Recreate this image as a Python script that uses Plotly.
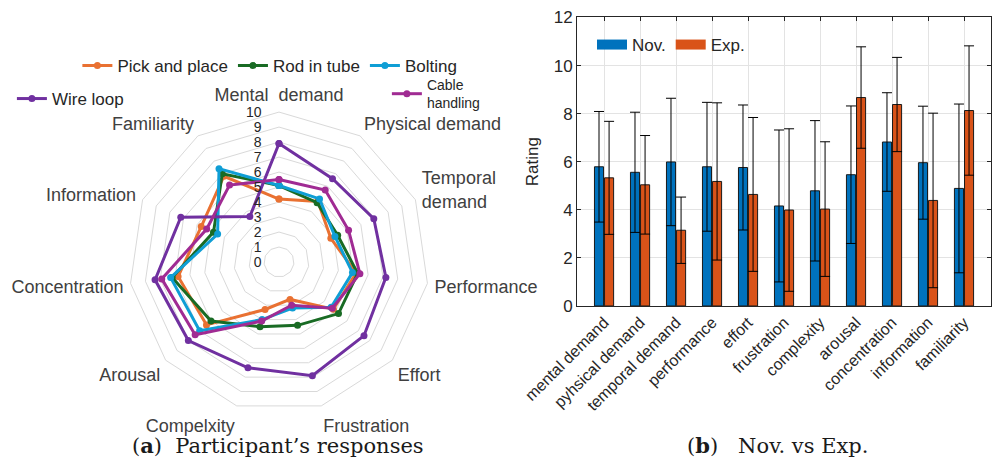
import plotly.graph_objects as go

# ---------------- radar data ----------------
radar_axes = ["Mental  demand", "Physical demand", "Temporal<br>demand", "Performance",
              "Effort", "Frustration", "Compelxity", "Arousal", "Concentration",
              "Information", "Familiarity"]
pick_and_place = [4.2, 4.8, 3.8, 5.2, 4.8, 2.6, 3.3, 6.4, 6.8, 5.7, 6.8]
rod_in_tube    = [5.1, 4.7, 4.3, 5.3, 5.25, 4.4, 4.5, 6.0, 7.2, 4.8, 7.0]
bolting        = [5.1, 5.0, 4.1, 4.95, 4.6, 3.2, 4.0, 7.0, 7.3, 4.5, 7.4]
wire_loop      = [7.9, 6.6, 6.95, 7.2, 7.5, 7.9, 7.35, 8.0, 8.35, 7.2, 3.6]
cable_handling = [5.5, 5.7, 5.1, 5.45, 4.7, 3.0, 4.1, 7.4, 7.9, 5.3, 6.1]
radar_ticks = list(range(0, 11))

# ---------------- bar data ----------------
bar_categories = ["mental demand", "pyhsical demand", "temporal demand", "performance",
                  "effort", "frustration", "complexity", "arousal", "concentration",
                  "information", "familiarity"]
nov_mean = [5.79, 5.56, 5.99, 5.79, 5.76, 4.16, 4.79, 5.46, 6.82, 5.96, 4.89]
nov_err  = [2.30, 2.50, 2.65, 2.68, 2.60, 3.16, 2.92, 2.86, 2.05, 2.35, 3.51]
exp_mean = [5.33, 5.04, 3.15, 5.18, 4.64, 3.99, 4.03, 8.67, 8.38, 4.39, 8.13]
exp_err  = [2.35, 2.05, 1.38, 3.27, 3.20, 3.38, 2.80, 2.11, 1.96, 3.63, 2.69]
bar_yticks = [0, 2, 4, 6, 8, 10, 12]

NOV_COLOR = "#0072BD"
EXP_COLOR = "#D95319"

fig = go.Figure()

series = [
    ("Pick and place", pick_and_place, "#E97132", "legend"),
    ("Rod in tube", rod_in_tube, "#196B24", "legend"),
    ("Bolting", bolting, "#0F9ED5", "legend"),
    ("Wire loop", wire_loop, "#7030A0", "legend2"),
    ("Cable<br>handling", cable_handling, "#A02B93", "legend3"),
]
for name, vals, col, lg in series:
    fig.add_trace(go.Scatterpolar(
        r=vals + vals[:1], theta=radar_axes + radar_axes[:1],
        mode="lines+markers", name=name, legend=lg,
        line=dict(color=col, width=3), marker=dict(color=col, size=7),
        subplot="polar"))

fig.add_trace(go.Bar(x=bar_categories, y=nov_mean, name="Nov.", showlegend=False,
                     marker=dict(color=NOV_COLOR, line=dict(color="#1a1a1a", width=1)),
                     error_y=dict(type="data", array=nov_err, color="black", thickness=1, width=5),
                     xaxis="x", yaxis="y"))
fig.add_trace(go.Bar(x=bar_categories, y=exp_mean, name="Exp.", showlegend=False,
                     marker=dict(color=EXP_COLOR, line=dict(color="#1a1a1a", width=1)),
                     error_y=dict(type="data", array=exp_err, color="black", thickness=1, width=5),
                     xaxis="x", yaxis="y"))
# legend swatches (long rectangles as in the MATLAB legend)
for nm, col in [("Nov.", NOV_COLOR), ("Exp.", EXP_COLOR)]:
    fig.add_trace(go.Scatter(x=[None], y=[None], mode="lines", name=nm, legend="legend4",
                             line=dict(color=col, width=16), xaxis="x", yaxis="y"))

fig.update_layout(
    template="none",
    width=992, height=465, margin=dict(l=0, r=0, t=0, b=0, autoexpand=False),
    paper_bgcolor="white", plot_bgcolor="white",
    font=dict(family="Liberation Sans, Arial", color="#404040", size=15),
    barmode="group", bargap=0.44, bargroupgap=0.1,
    polar=dict(
        domain=dict(x=[0.130, 0.4325], y=[0.114, 0.759]),
        bgcolor="white",
        gridshape="linear",
        angularaxis=dict(rotation=90, direction="clockwise", showgrid=False,
                         showline=True, linecolor="#d9d9d9", linewidth=1,
                         ticks="outside", ticklen=3, tickcolor="rgba(0,0,0,0)",
                         tickfont=dict(size=18, color="#404040")),
        radialaxis=dict(range=[0, 10], tickvals=radar_ticks, angle=90, tickangle=90,
                        side="counterclockwise",
                        ticks="outside", ticklen=12, tickcolor="rgba(0,0,0,0)",
                        showline=False, gridcolor="#d9d9d9", gridwidth=1,
                        tickfont=dict(size=14, color="#262626")),
    ),
    xaxis=dict(domain=[0.5817, 0.999], range=[-0.75, 10.75], tickangle=-45,
               automargin=False,
               showline=True, mirror="ticks", linecolor="#262626", linewidth=1,
               ticks="inside", ticklen=4, tickcolor="#262626",
               showgrid=True, gridcolor="#e3e3e3", zeroline=False,
               tickfont=dict(size=16, color="#262626"), anchor="y"),
    yaxis=dict(domain=[0.342, 0.9624], range=[0, 12], tickvals=bar_yticks,
               automargin=False,
               showline=True, mirror="ticks", linecolor="#262626", linewidth=1,
               ticks="inside", ticklen=4, tickcolor="#262626",
               showgrid=True, gridcolor="#e3e3e3", zeroline=False,
               title=dict(text="Rating", font=dict(size=17, color="#262626"), standoff=10),
               tickfont=dict(size=17, color="#262626"), anchor="x"),
    legend=dict(orientation="h", x=0.078, y=(465 - 66) / 465, yanchor="middle", xanchor="left",
                font=dict(size=17, color="#262626"), bgcolor="rgba(0,0,0,0)",
                itemwidth=30, tracegroupgap=0),
    legend2=dict(orientation="h", x=0.012, y=(465 - 99) / 465, yanchor="middle", xanchor="left",
                 font=dict(size=17, color="#262626"), bgcolor="rgba(0,0,0,0)"),
    legend3=dict(orientation="h", x=0.39, y=(465 - 69) / 465, yanchor="top", xanchor="left",
                 font=dict(size=14, color="#262626"), bgcolor="rgba(0,0,0,0)"),
    legend4=dict(orientation="h", x=592 / 992, y=(465 - 45) / 465, yanchor="middle", xanchor="left",
                 font=dict(size=17, color="#262626"), bgcolor="rgba(0,0,0,0)"),
    annotations=[
        dict(text="(<b>a</b>)  Participant’s responses", x=278 / 992, y=(465 - 445) / 465,
             xref="paper", yref="paper", showarrow=False, xanchor="center", yanchor="middle",
             font=dict(family="DejaVu Serif", size=21, color="#1a1a1a")),
        dict(text="(<b>b</b>)   Nov. vs Exp.", x=777 / 992, y=(465 - 445) / 465,
             xref="paper", yref="paper", showarrow=False, xanchor="center", yanchor="middle",
             font=dict(family="DejaVu Serif", size=21, color="#1a1a1a")),
    ],
)

fig.write_html("out.html")
